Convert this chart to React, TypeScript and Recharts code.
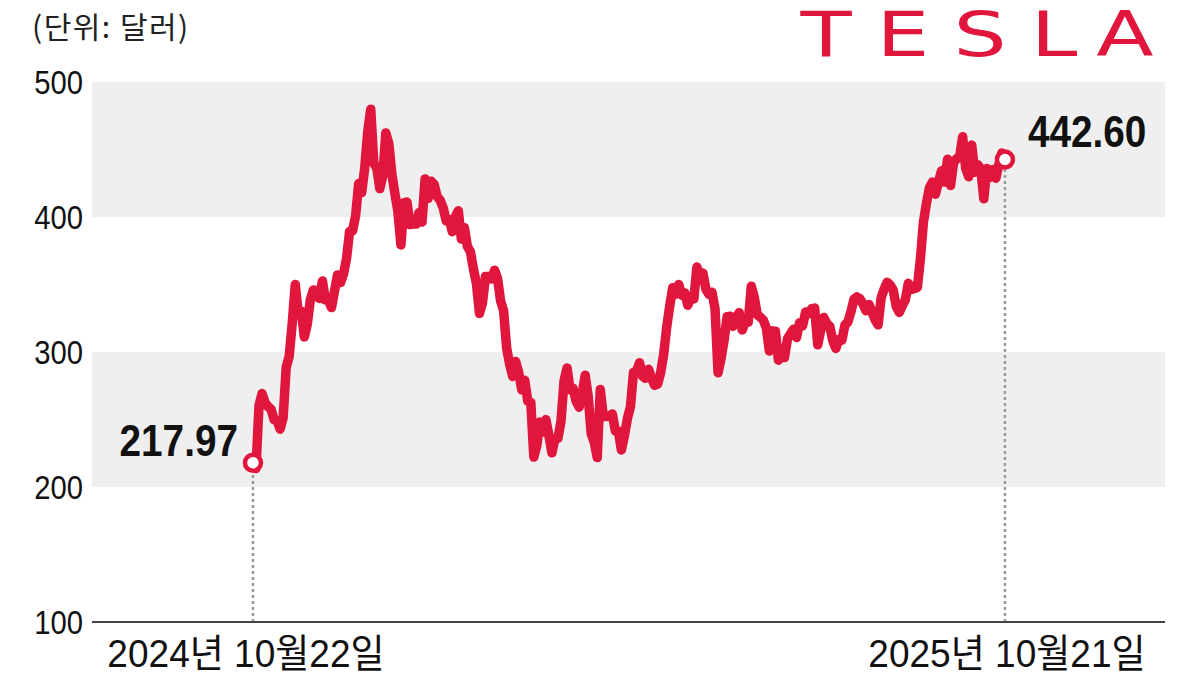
import React from "react";
import {
  LineChart, Line, XAxis, YAxis, ReferenceArea, ReferenceLine, ReferenceDot,
} from "recharts";

// Tesla daily close, 2024-10-22 .. 2025-10-21 (USD)
const PRICES = [
  // Oct 2024
  217.97, 213.65, 260.48, 269.19, 262.51, 259.52, 257.55, 249.85,
  // Nov
  248.98, 242.84, 251.44, 288.53, 296.91, 321.22, 350.0, 328.49, 330.24, 311.18,
  320.72, 338.74, 346.0, 342.03, 339.64, 352.56, 338.59, 338.23, 332.89, 345.16,
  // Dec
  357.09, 351.42, 357.93, 369.49, 389.22, 389.79, 400.99, 424.77, 418.1, 436.23,
  463.02, 479.86, 440.13, 436.17, 421.06, 430.6, 462.28, 454.13, 431.66, 417.41, 403.84,
  // Jan 2025
  379.28, 410.44, 411.05, 394.36, 394.94, 394.74, 403.31, 396.36, 428.22, 413.82,
  426.5, 424.07, 415.11, 412.38, 406.58, 397.15, 398.09, 389.1, 400.28, 404.6,
  // Feb
  383.68, 392.21, 378.17, 374.32, 361.62, 350.73, 328.5, 336.51, 355.94, 355.84,
  354.11, 360.56, 354.4, 337.8, 330.53, 302.8, 290.8, 281.95, 292.98,
  // Mar
  284.65, 272.04, 279.1, 263.45, 262.67, 222.15, 230.58, 248.09, 240.68, 249.98,
  238.01, 225.31, 235.86, 236.26, 248.71, 278.39, 288.14, 272.06, 273.13, 263.55, 259.16,
  // Apr
  268.46, 282.76, 267.28, 239.43, 233.29, 221.86, 272.2, 252.4, 252.31, 252.35,
  254.11, 241.55, 241.37, 227.5, 237.97, 250.74, 259.51, 284.95, 285.88, 292.03, 282.16,
  // May
  280.52, 287.21, 280.26, 275.35, 276.22, 284.82, 298.26, 318.38, 334.07, 347.68,
  342.82, 349.98, 342.09, 343.82, 334.62, 341.04, 339.34, 362.89, 356.9, 358.43, 346.46,
  // Jun
  342.69, 344.27, 332.05, 284.7, 295.14, 308.58, 326.09, 326.43, 319.11, 325.31,
  329.13, 316.35, 322.05, 322.16, 348.68, 340.47, 327.55, 325.78, 323.63, 317.66,
  // Jul
  300.71, 315.65, 315.35, 293.94, 297.81, 295.88, 309.87, 313.51, 316.9, 310.78,
  321.67, 319.41, 329.65, 328.49, 332.11, 332.56, 305.3, 316.06, 325.59, 321.2, 319.04, 308.27,
  // Aug
  302.63, 309.26, 308.72, 319.91, 322.27, 329.65, 339.03, 340.84, 339.38, 335.58,
  330.56, 335.16, 329.31, 323.9, 320.11, 340.01, 346.6, 351.67, 349.6, 345.98, 333.87,
  // Sep
  329.36, 334.09, 338.53, 350.84, 346.4, 346.97, 347.79, 368.81, 395.94, 410.04,
  421.62, 425.86, 416.85, 426.07, 434.21, 425.85, 442.79, 423.39, 440.4, 443.21, 444.72,
  // Oct
  459.46, 436.0, 429.83, 453.25, 433.09, 438.69, 435.54, 413.49, 435.9, 429.24,
  435.15, 428.75, 439.31, 447.43, 442.6,
];

const X_LABELS = ["2024년 10월22일", "2025년 10월21일"];
const Y_TICKS = [100, 200, 300, 400, 500];
const BANDS = [[200, 300], [400, 500]];
const UNIT_LABEL = "(단위: 달러)";

const RED = "#e1163c";
const NUM_FONT = "'Liberation Sans', Arial, sans-serif";
const KR_FONT = "'Liberation Sans', 'Noto Sans CJK KR', sans-serif";

const LAST = PRICES.length - 1;
const data = PRICES.map((price, i) => ({ i, price }));

// eslint-disable-next-line @typescript-eslint/no-explicit-any
function YTick({ y, payload }: any) {
  return (
    <g transform={`translate(83 ${y}) scale(0.86 1)`}>
      <text x={0} y={0} dy="0.36em" textAnchor="end" fontSize={34} fontFamily={NUM_FONT} fill="#111">
        {payload.value}
      </text>
    </g>
  );
}

// eslint-disable-next-line @typescript-eslint/no-explicit-any
function XTick({ x, payload }: any) {
  const label = payload.value === 0 ? X_LABELS[0] : X_LABELS[1];
  const dx = payload.value === 0 ? -7 : 2;
  return (
    <g transform={`translate(${x + dx} 667) scale(0.95 1)`}>
      <text x={0} y={0} textAnchor="middle" fontSize={39} fontFamily={KR_FONT} fill="#111">
        {label}
      </text>
    </g>
  );
}

function priceLabel(text: string, dx: number, dy: number, anchor: string) {
  // eslint-disable-next-line @typescript-eslint/no-explicit-any
  return (props: any) => {
    const vb = props.viewBox || {};
    const cx = vb.x + (vb.width || 0) / 2;
    const cy = vb.y + (vb.height || 0) / 2;
    return (
      <g transform={`translate(${cx + dx} ${cy + dy}) scale(0.88 1)`}>
        <text x={0} y={0} textAnchor={anchor} fontSize={44} fontWeight="bold" fontFamily={NUM_FONT} fill="#111">
          {text}
        </text>
      </g>
    );
  };
}

export default function App() {
  return (
    <div style={{ position: "absolute", left: 0, top: 0, width: 1200, height: 675, background: "#fff", overflow: "hidden" }}>
      <LineChart width={1200} height={675} data={data} margin={{ top: 82, right: 35, left: 0, bottom: 0 }}>
        {BANDS.map(([lo, hi]) => (
          <ReferenceArea key={lo} y1={lo} y2={hi} fill="#efefef" fillOpacity={1} stroke="none" />
        ))}
        <XAxis
          type="number"
          dataKey="i"
          domain={[-53.3, 302]}
          allowDataOverflow
          ticks={[0, LAST]}
          tick={<XTick />}
          tickLine={false}
          axisLine={{ stroke: "#444", strokeWidth: 2 }}
          height={53}
        />
        <YAxis
          domain={[100, 500]}
          ticks={Y_TICKS}
          tick={<YTick />}
          tickLine={false}
          axisLine={false}
          width={92}
        />
        <ReferenceLine
          segment={[{ x: 0, y: 100 }, { x: 0, y: PRICES[0] }]}
          stroke="#999"
          strokeWidth={2.5}
          strokeDasharray="3 3"
        />
        <ReferenceLine
          segment={[{ x: LAST, y: 100 }, { x: LAST, y: PRICES[LAST] }]}
          stroke="#999"
          strokeWidth={2.5}
          strokeDasharray="3 3"
        />
        <Line
          type="linear"
          dataKey="price"
          stroke={RED}
          strokeWidth={9.5}
          strokeLinejoin="round"
          strokeLinecap="round"
          dot={false}
          activeDot={false}
          isAnimationActive={false}
        />
        <ReferenceDot
          x={0}
          y={PRICES[0]}
          r={8}
          fill="#fff"
          stroke={RED}
          strokeWidth={4.5}
          label={{ content: priceLabel(PRICES[0].toFixed(2), -15, -7, "end") }}
        />
        <ReferenceDot
          x={LAST}
          y={PRICES[LAST]}
          r={8}
          fill="#fff"
          stroke={RED}
          strokeWidth={4.5}
          label={{ content: priceLabel(PRICES[LAST].toFixed(2), 23, -12, "start") }}
        />
      </LineChart>
      <svg width={1200} height={80} style={{ position: "absolute", left: 0, top: 0, pointerEvents: "none" }}>
        <text x={32} y={38} fontSize={30} letterSpacing={1.5} fontFamily="'Noto Sans CJK KR', sans-serif" fill="#222">
          {UNIT_LABEL}
        </text>
        <g transform="translate(0 56) scale(1.35 1)">
          <text
            x={[826, 903, 980, 1054, 1125].map((v) => v / 1.35).join(" ")}
            y={0}
            textAnchor="middle"
            fontSize={62}
            fontFamily="'DejaVu Sans', sans-serif"
            fill={RED}
          >
            TESLA
          </text>
        </g>
      </svg>
    </div>
  );
}
